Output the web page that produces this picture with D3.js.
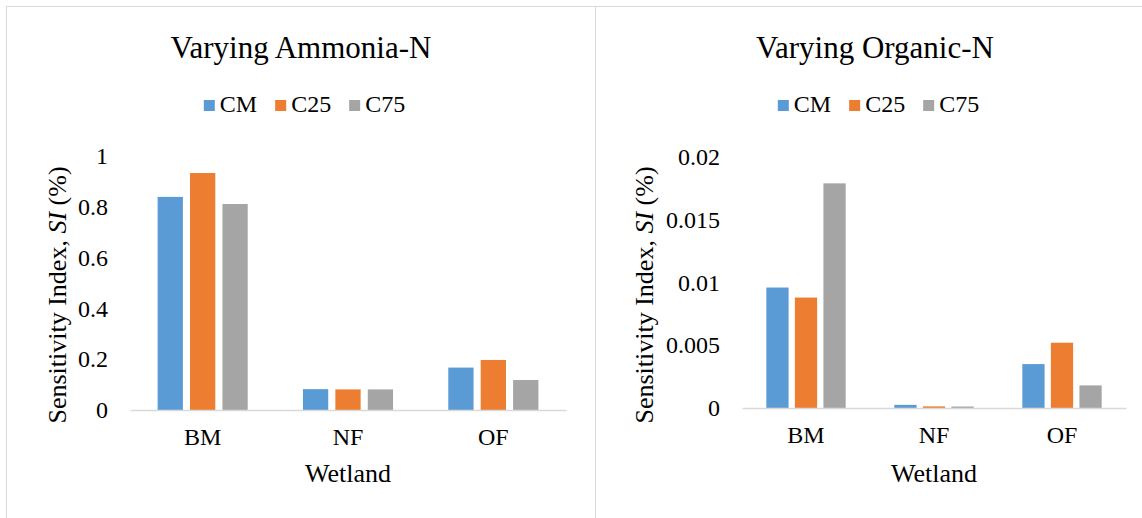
<!DOCTYPE html>
<html>
<head>
<meta charset="utf-8">
<script src="https://cdn.jsdelivr.net/npm/d3@7"></script>
<style>
  body { margin: 0; background: #fff; font-family: 'Liberation Serif', serif; }
</style>
</head>
<body>
<svg id="chart"></svg>
<script>
// categories and series
const wetlands = ["BM", "NF", "OF"];
const seriesNames = ["CM", "C25", "C75"];
const seriesColors = ["#5B9BD5", "#ED7D31", "#A5A5A5"];

// Varying Ammonia-N
const ammoniaCM = [0.839, 0.082, 0.167];
const ammoniaC25 = [0.933, 0.081, 0.197];
const ammoniaC75 = [0.811, 0.081, 0.118];
const ammoniaTicks = [0, 0.2, 0.4, 0.6, 0.8, 1];

// Varying Organic-N
const organicCM = [0.0096, 0.00025, 0.0035];
const organicC25 = [0.0088, 0.00013, 0.0052];
const organicC75 = [0.0179, 0.00012, 0.0018];
const organicTicks = [0, 0.005, 0.01, 0.015, 0.02];

const width = 1142;
const height = 518;
const serif = "'Liberation Serif', 'Times New Roman', serif";

const svg = d3.select("#chart")
  .attr("width", width)
  .attr("height", height)
  .attr("font-family", serif);

svg.append("rect")
  .attr("width", width)
  .attr("height", height)
  .attr("fill", "#fff");

// panel frames
svg.append("rect")
  .attr("x", 6.5).attr("y", 6.5)
  .attr("width", 589).attr("height", 530)
  .attr("fill", "none").attr("stroke", "#D9D9D9");
svg.append("rect")
  .attr("x", 595.5).attr("y", 6.5)
  .attr("width", 580).attr("height", 530)
  .attr("fill", "none").attr("stroke", "#D9D9D9");

function label(sel, size) {
  return sel
    .attr("font-family", serif)
    .style("font-family", serif)
    .style("font-size", size + "px")
    .attr("fill", "#000");
}

function drawPanel(cfg) {
  const g = svg.append("g");
  const rows = wetlands.map((w, i) => ({
    key: w,
    values: cfg.series.map((s, j) => ({ name: seriesNames[j], value: s[i], color: seriesColors[j] }))
  }));

  // title
  g.append("text")
    .attr("x", cfg.center)
    .attr("y", 58)
    .attr("text-anchor", "middle")
    .call(label, 31)
    .text(cfg.title);

  // legend, laid out from measured text widths
  const legend = g.append("g");
  let lx = 0;
  seriesNames.forEach((name, i) => {
    legend.append("rect")
      .attr("x", lx).attr("y", 100)
      .attr("width", 11).attr("height", 11)
      .attr("fill", seriesColors[i]);
    const t = legend.append("text")
      .attr("x", lx + 16).attr("y", 112)
      .call(label, 24)
      .text(name);
    lx += 16 + t.node().getComputedTextLength() + 18;
  });
  const legendWidth = lx - 18;
  legend.attr("transform", "translate(" + (cfg.center + 3.5 - legendWidth / 2) + ",0)");

  // scales
  const x0 = d3.scaleBand()
    .domain(wetlands)
    .range([cfg.left, cfg.right])
    .paddingInner(0.38)
    .paddingOuter(0.19);
  const x1 = d3.scaleBand()
    .domain(seriesNames)
    .range([0, x0.bandwidth()])
    .paddingInner(0.22);
  const y = d3.scaleLinear()
    .domain(cfg.domain)
    .range([cfg.bottom, cfg.top]);

  // y axis labels
  const yAxis = g.append("g")
    .attr("transform", "translate(" + cfg.left + ",0)")
    .call(d3.axisLeft(y).tickValues(cfg.ticks).tickSize(0).tickPadding(22).tickFormat(d3.format("")));
  yAxis.attr("font-family", serif);
  yAxis.select(".domain").remove();
  yAxis.selectAll("text").call(label, 24);

  // bars
  g.append("g")
    .selectAll("g")
    .data(rows)
    .join("g")
    .attr("transform", d => "translate(" + x0(d.key) + ",0)")
    .selectAll("rect")
    .data(d => d.values)
    .join("rect")
    .attr("x", d => x1(d.name))
    .attr("y", d => y(d.value))
    .attr("width", x1.bandwidth())
    .attr("height", d => y(0) - y(d.value))
    .attr("fill", d => d.color);

  // x axis
  const xAxis = g.append("g")
    .attr("transform", "translate(0," + cfg.bottom + ")")
    .call(d3.axisBottom(x0).tickSize(0).tickSizeOuter(0).tickPadding(18));
  xAxis.attr("font-family", serif);
  xAxis.select(".domain")
    .attr("stroke", "#D9D9D9")
    .attr("stroke-width", 1.5);
  xAxis.selectAll("text").call(label, 24);

  // axis titles
  g.append("text")
    .attr("x", (cfg.left + cfg.right) / 2)
    .attr("y", 482)
    .attr("text-anchor", "middle")
    .call(label, 26)
    .text("Wetland");

  const yt = g.append("text")
    .attr("transform", "translate(" + cfg.yTitleX + ",295) rotate(-90)")
    .attr("text-anchor", "middle")
    .call(label, 26);
  yt.append("tspan").text("Sensitivity Index, ");
  yt.append("tspan").style("font-style", "italic").text("SI");
  yt.append("tspan").text(" (%)");
}

drawPanel({
  title: "Varying Ammonia-N",
  center: 301,
  left: 130, right: 566,
  top: 156, bottom: 410,
  domain: [0, 1],
  ticks: ammoniaTicks,
  yTitleX: 66,
  series: [ammoniaCM, ammoniaC25, ammoniaC75]
});

drawPanel({
  title: "Varying Organic-N",
  center: 875,
  left: 742, right: 1126,
  top: 157, bottom: 408,
  domain: [0, 0.02],
  ticks: organicTicks,
  yTitleX: 653,
  series: [organicCM, organicC25, organicC75]
});
</script>
</body>
</html>
